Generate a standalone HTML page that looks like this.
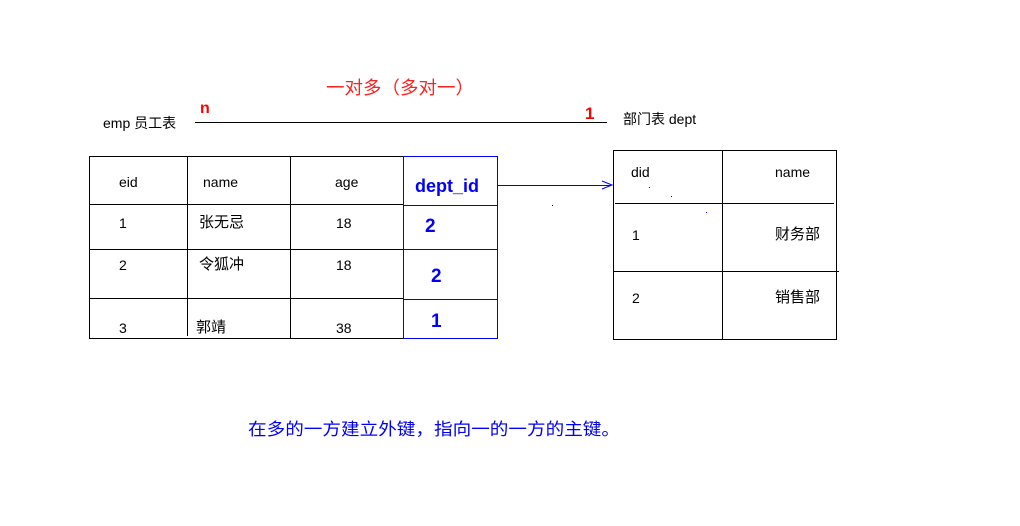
<!DOCTYPE html>
<html><head><meta charset="utf-8"><style>
html,body{margin:0;padding:0;background:#fff;}
svg{display:block;}
text{font-family:"Liberation Sans","Noto Sans CJK SC",sans-serif;}
</style></head><body>
<svg width="1020" height="526" viewBox="0 0 1020 526" xmlns="http://www.w3.org/2000/svg">
<text x="326" y="94" font-size="18" fill="#ff2020" textLength="148" lengthAdjust="spacingAndGlyphs">一对多（多对一）</text>
<text x="200" y="113" font-size="16" font-weight="bold" fill="#ff0000">n</text>
<text x="585" y="119" font-size="17" font-weight="bold" fill="#ff0000">1</text>
<text x="103" y="128" font-size="14" fill="#000">emp 员工表</text>
<text x="623" y="124" font-size="14" fill="#000">部门表  dept</text>
<line x1="195" y1="122.5" x2="607" y2="122.5" stroke="#000" stroke-width="1"/>

<!-- emp table -->
<g stroke="#000" stroke-width="1" fill="none">
<line x1="89" y1="156.5" x2="403" y2="156.5"/>
<line x1="89" y1="204.5" x2="403" y2="204.5"/>
<line x1="89" y1="249.5" x2="403" y2="249.5"/>
<line x1="89" y1="298.5" x2="403" y2="298.5"/>
<line x1="89" y1="338.5" x2="403" y2="338.5"/>
<line x1="89.5" y1="156" x2="89.5" y2="339"/>
<line x1="187.5" y1="156" x2="187.5" y2="336"/>
<line x1="290.5" y1="156" x2="290.5" y2="339"/>
<line x1="403.5" y1="156" x2="403.5" y2="339"/>
</g>
<g stroke="#0000ff" stroke-width="1" fill="none">
<rect x="403.5" y="156.5" width="94" height="182"/>
<line x1="403" y1="205.5" x2="498" y2="205.5"/>
<line x1="403" y1="249.5" x2="498" y2="249.5"/>
<line x1="403" y1="299.5" x2="497" y2="299.5"/>
<line x1="498" y1="185.5" x2="611" y2="185.5"/>
<polyline points="602,181 612,185 602,189"/>
</g>
<g font-size="14" fill="#000">
<text x="119" y="187">eid</text>
<text x="203" y="187">name</text>
<text x="335" y="187">age</text>
<text x="119" y="228">1</text>
<text x="199" y="227" font-size="15">张无忌</text>
<text x="336" y="228">18</text>
<text x="119" y="270">2</text>
<text x="199" y="269" font-size="15">令狐冲</text>
<text x="336" y="270">18</text>
<text x="119" y="333">3</text>
<text x="196" y="332" font-size="15">郭靖</text>
<text x="336" y="333">38</text>
</g>
<g font-weight="bold" fill="#0000ff">
<text x="415" y="192" font-size="18">dept_id</text>
<text x="425" y="232" font-size="19">2</text>
<text x="431" y="282" font-size="19">2</text>
<text x="431" y="327" font-size="19">1</text>
</g>

<!-- dept table -->
<g stroke="#000" stroke-width="1" fill="none">
<rect x="613.5" y="150.5" width="223" height="189"/>
<line x1="722.5" y1="150" x2="722.5" y2="340"/>
<line x1="615" y1="203.5" x2="834" y2="203.5"/>
<line x1="613" y1="271.5" x2="839" y2="271.5"/>
</g>
<g font-size="14" fill="#000">
<text x="631" y="177">did</text>
<text x="775" y="177">name</text>
<text x="632" y="240">1</text>
<text x="775" y="239" font-size="15">财务部</text>
<text x="632" y="303">2</text>
<text x="775" y="302" font-size="15">销售部</text>
</g>
<g fill="#0000ff"><rect x="649" y="187" width="1" height="1"/><rect x="671" y="196" width="1" height="1"/><rect x="706" y="212" width="1" height="1"/></g>
<rect x="552" y="205" width="1" height="1" fill="#000"/>

<text x="248" y="435" font-size="17" fill="#0000ff" textLength="372" lengthAdjust="spacingAndGlyphs">在多的一方建立外键，指向一的一方的主键。</text>
</svg>
</body></html>
